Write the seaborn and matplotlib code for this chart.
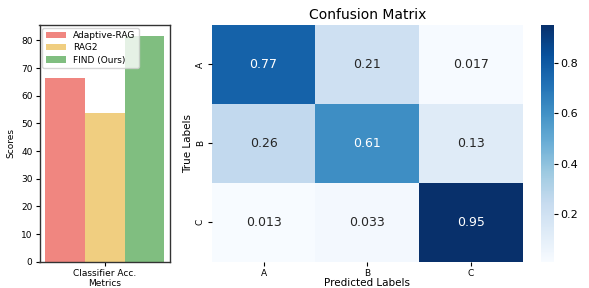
import matplotlib
matplotlib.use("Agg")
import matplotlib.pyplot as plt
import seaborn as sns
import numpy as np
import pandas as pd

methods = ["Adaptive-RAG", "RAG2", "FIND (Ours)"]
scores = [66.3, 53.7, 81.5]
metric_names = ["Classifier Acc."]
bar_colors = ["#F08680", "#F0CE80", "#80BE80"]

class_labels = ["A", "B", "C"]
conf_row_A = [0.77, 0.21, 0.017]
conf_row_B = [0.26, 0.61, 0.13]
conf_row_C = [0.013, 0.033, 0.95]

W, H = 589, 288
fig = plt.figure(figsize=(W / 100, H / 100), dpi=100)

def ax_px(x0, y0, x1, y1):
    return [x0 / W, 1 - y1 / H, (x1 - x0) / W, (y1 - y0) / H]

# Bar chart
ax1 = fig.add_axes(ax_px(39.5, 25, 170, 261.7))
df = pd.DataFrame({"Metrics": metric_names * len(methods), "Method": methods, "Score": scores})
sns.barplot(data=df, x="Metrics", y="Score", hue="Method", palette=bar_colors,
            ax=ax1, width=0.8, saturation=1)
ax1.set_xlim(-0.44, 0.44)
ax1.set_ylabel("Scores", fontsize=6.5)
ax1.set_xlabel("Metrics", fontsize=6.5, labelpad=1)
ax1.tick_params(labelsize=6.5, length=3, pad=2)
ax1.set_ylim(0, 85.6)
ax1.set_yticks(range(0, 81, 10))
for s in ax1.spines.values():
    s.set_color("#333333")
    s.set_linewidth(1.0)
leg = ax1.legend(loc="upper left", fontsize=6.5, frameon=True, handlelength=2.2,
                 borderaxespad=0.3, labelspacing=0.35)
leg.set_title(None)

# Heatmap
cm = np.array([conf_row_A, conf_row_B, conf_row_C])
ax2 = fig.add_axes(ax_px(211.7, 25, 523, 261.7))
cax = fig.add_axes(ax_px(541, 25, 553.7, 261.7))
sns.heatmap(cm, annot=True, cmap="Blues", ax=ax2, cbar_ax=cax,
            xticklabels=class_labels, yticklabels=class_labels,
            annot_kws={"fontsize": 9})
ax2.set_title("Confusion Matrix", fontsize=10, pad=4)
ax2.set_xlabel("Predicted Labels", fontsize=7.5, labelpad=0.5)
ax2.set_ylabel("True Labels", fontsize=7.5, labelpad=2)
ax2.tick_params(labelsize=6.5, length=3, pad=2)
cax.tick_params(labelsize=8, length=3, pad=2)
cax.set_yticks([0.2, 0.4, 0.6, 0.8])

fig.savefig("out.png", dpi=100)
